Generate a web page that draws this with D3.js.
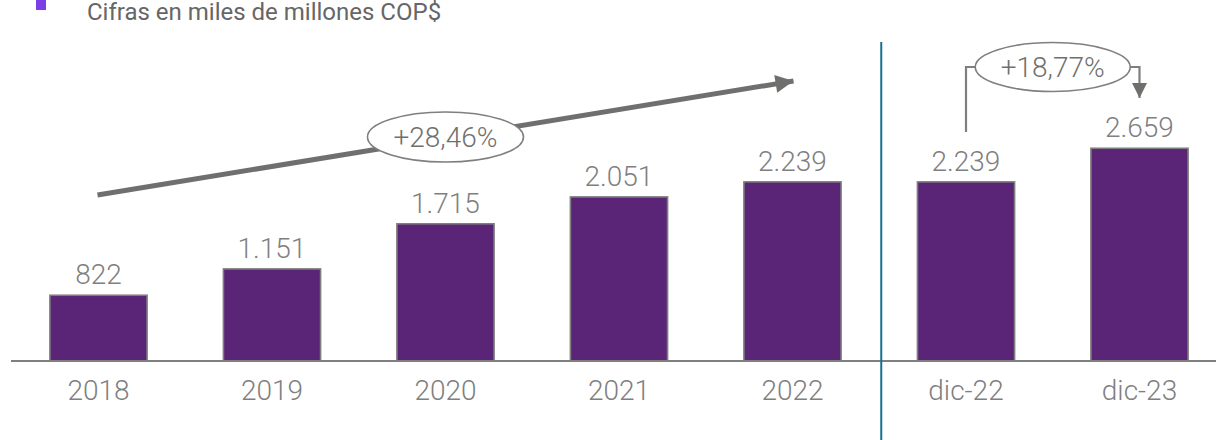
<!DOCTYPE html>
<html>
<head>
<meta charset="utf-8">
<script src="https://cdn.jsdelivr.net/npm/d3@7"></script>
<style>
  html, body { margin: 0; padding: 0; background: #fff; }
  svg { display: block; }
</style>
</head>
<body>
<svg id="chart" width="1216" height="440"></svg>
<script>
const categories = ["2018", "2019", "2020", "2021", "2022", "dic-22", "dic-23"];
const values = [822, 1151, 1715, 2051, 2239, 2239, 2659];
const valueLabels = ["822", "1.151", "1.715", "2.051", "2.239", "2.239", "2.659"];
const title = "Cifras en miles de millones COP$";
const cagrLabel = "+28,46%";
const yoyLabel = "+18,77%";

const W = 1216, H = 440;
const svg = d3.select("#chart");
const FONT = "Roboto, 'Noto Sans', sans-serif";
const GRAY = "#7f7f7f";

const x = d3.scaleBand().domain(categories).range([11.75, 1226.25]).paddingInner(0.44).paddingOuter(0.22);
const y = d3.scaleLinear().domain([0, 4500]).range([361, 1]);
const cx = c => x(c) + x.bandwidth() / 2;

// title
svg.append("rect").attr("x", 36).attr("y", 0).attr("width", 10).attr("height", 10).attr("fill", "#7b3fe4");
svg.append("text").attr("x", 87).attr("y", 20).attr("font-family", FONT).attr("font-size", 24)
  .attr("fill", "#666").text(title);

// bars
svg.selectAll("rect.bar").data(categories).join("rect").attr("class", "bar")
  .attr("x", d => x(d)).attr("width", x.bandwidth())
  .attr("y", (d, i) => y(values[i])).attr("height", (d, i) => y(0) - y(values[i]))
  .attr("fill", "#5b2577").attr("stroke", GRAY).attr("stroke-width", 1.6);

// value labels
svg.selectAll("text.val").data(categories).join("text").attr("class", "val")
  .attr("x", d => cx(d)).attr("y", (d, i) => y(values[i]) - 11)
  .attr("text-anchor", "middle").attr("font-family", FONT).attr("font-weight", 300)
  .attr("font-size", 28).attr("fill", GRAY).text((d, i) => valueLabels[i]);

// x axis
const axis = svg.append("g").attr("transform", `translate(0,${y(0)})`)
  .call(d3.axisBottom(x).tickSize(0).tickPadding(0));
axis.select(".domain").remove();
axis.append("line").attr("x1", 11).attr("x2", W).attr("y1", 0).attr("y2", 0)
  .attr("stroke", GRAY).attr("stroke-width", 2);
axis.selectAll(".tick text").attr("dy", 0).attr("y", 39)
  .attr("font-family", FONT).attr("font-weight", 300).attr("font-size", 28).attr("fill", GRAY);

// divider
const divX = (cx("2022") + cx("dic-22")) / 2 + 2;
svg.append("line").attr("x1", divX).attr("x2", divX).attr("y1", 42).attr("y2", H)
  .attr("stroke", "#17708f").attr("stroke-width", 2);

// arrow markers
const defs = svg.append("defs");
defs.append("marker").attr("id", "bigHead").attr("viewBox", "0 0 10 10")
  .attr("refX", 10).attr("refY", 5).attr("markerUnits", "userSpaceOnUse")
  .attr("markerWidth", 19).attr("markerHeight", 18).attr("orient", "auto")
  .append("path").attr("d", "M0,0 L10,5 L0,10 Z").attr("fill", "#6f706e");
defs.append("marker").attr("id", "smallHead").attr("viewBox", "0 0 10 10")
  .attr("refX", 10).attr("refY", 5).attr("markerUnits", "userSpaceOnUse")
  .attr("markerWidth", 16).attr("markerHeight", 15).attr("orient", "auto")
  .append("path").attr("d", "M0,0 L10,5 L0,10 Z").attr("fill", "#6f706e");

// CAGR arrow
const x0 = cx("2018") - 1, y0 = y(2075);
const x1 = cx("2022") + 1, y1 = y(3500);
svg.append("line").attr("x1", x0).attr("y1", y0).attr("x2", x1).attr("y2", y1)
  .attr("stroke", "#6f706e").attr("stroke-width", 5).attr("marker-end", "url(#bigHead)");
const e1x = cx("2020"), e1y = y(2800);
svg.append("ellipse").attr("cx", e1x).attr("cy", e1y).attr("rx", 78).attr("ry", 25)
  .attr("fill", "#fff").attr("stroke", GRAY).attr("stroke-width", 1.6);
svg.append("text").attr("x", e1x).attr("y", e1y + 10).attr("text-anchor", "middle")
  .attr("font-family", FONT).attr("font-weight", 300).attr("font-size", 28).attr("fill", "#6f706e").text(cagrLabel);

// YoY bracket
const bx0 = cx("dic-22"), bx1 = cx("dic-23");
const e2x = (bx0 + bx1) / 2, e2y = y(3675);
const rx2 = 77.5;
svg.append("path")
  .attr("d", `M${bx0},${y(2862)} L${bx0},${e2y} L${e2x - rx2},${e2y}`)
  .attr("fill", "none").attr("stroke", GRAY).attr("stroke-width", 2.2);
svg.append("path")
  .attr("d", `M${e2x + rx2},${e2y} L${bx1},${e2y} L${bx1},${y(3287)}`)
  .attr("fill", "none").attr("stroke", GRAY).attr("stroke-width", 2.2).attr("marker-end", "url(#smallHead)");
svg.append("ellipse").attr("cx", e2x).attr("cy", e2y).attr("rx", rx2).attr("ry", 24.5)
  .attr("fill", "#fff").attr("stroke", GRAY).attr("stroke-width", 1.6);
svg.append("text").attr("x", e2x).attr("y", e2y + 10).attr("text-anchor", "middle")
  .attr("font-family", FONT).attr("font-weight", 300).attr("font-size", 28).attr("fill", "#6f706e").text(yoyLabel);
</script>
</body>
</html>
